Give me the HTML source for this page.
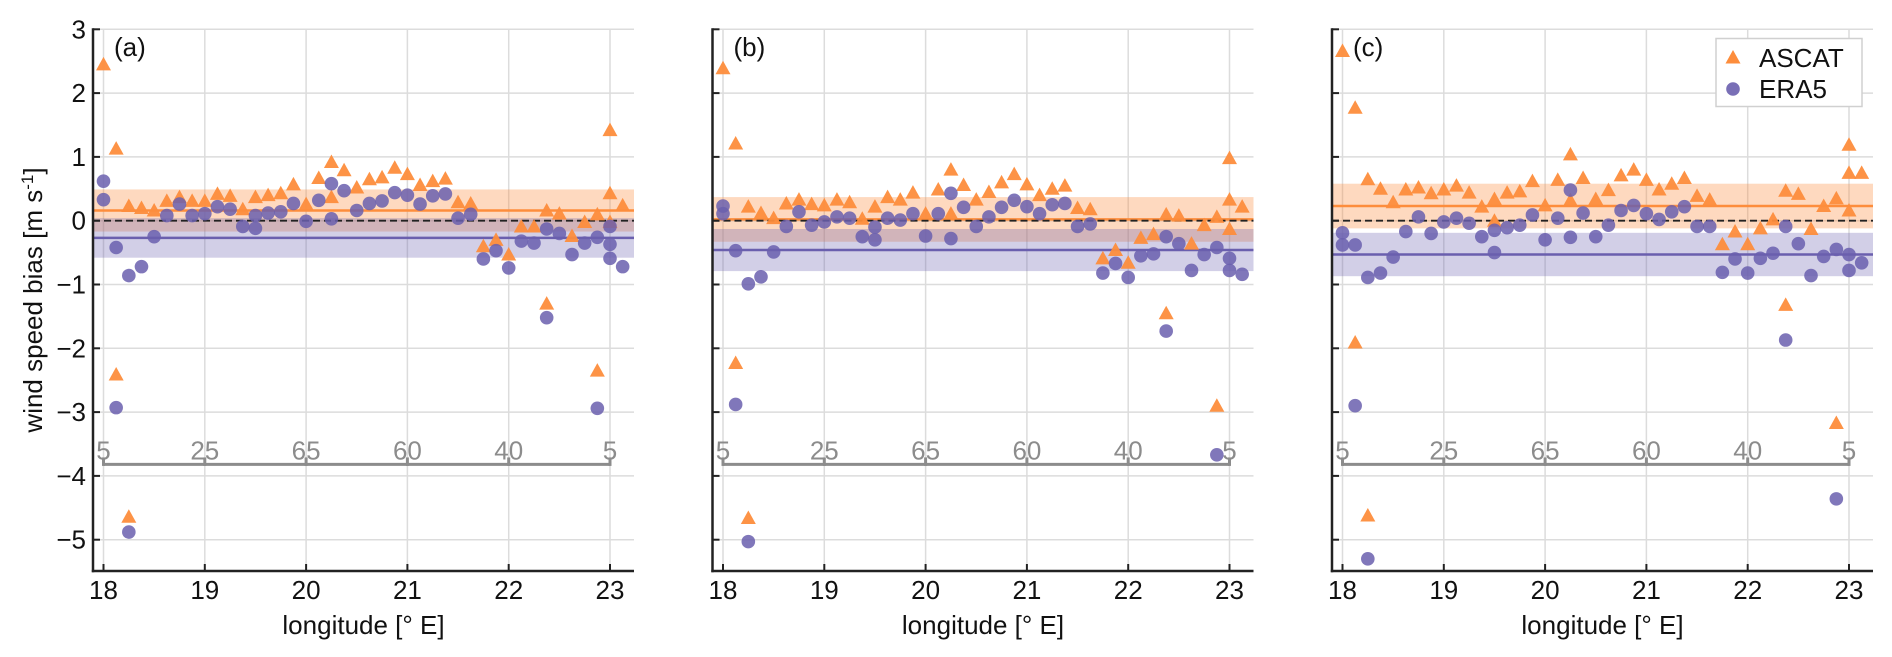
<!DOCTYPE html>
<html><head><meta charset="utf-8">
<style>
html,body{margin:0;padding:0;background:#fff;}
svg{display:block;font-family:"Liberation Sans",sans-serif;}
</style></head>
<body>
<svg id="chart" width="1892" height="657" viewBox="0 0 1892 657" xmlns="http://www.w3.org/2000/svg"></svg>
<script>
// ---- data ----
const yTicks = [-5,-4,-3,-2,-1,0,1,2,3];
const xTicks = [18,19,20,21,22,23];
const topLabels = ["5","25","65","60","40","5"];
const panelLabels = ["(a)","(b)","(c)"];
const ascatMean = [0.16, 0.02, 0.23];
const ascatStd = [0.33, 0.35, 0.35];
const era5Mean = [-0.27, -0.46, -0.53];
const era5Std = [0.31, 0.33, 0.34];

const ascatLonA = [18,18.125,18.125,18.25,18.25,18.375,18.5,18.625,18.75,18.875,19,19.125,19.25,19.375,19.5,19.625,19.75,19.875,20,20.125,20.25,20.25,20.375,20.5,20.625,20.75,20.875,21,21.125,21.25,21.375,21.5,21.625,21.75,21.875,22,22.125,22.25,22.375,22.375,22.5,22.625,22.75,22.875,22.875,23,23,23,23.125];
const ascatA = [2.45,1.13,-2.41,0.23,-4.64,0.2,0.16,0.31,0.37,0.31,0.31,0.42,0.39,0.18,0.37,0.4,0.43,0.57,0.26,0.67,0.92,0.37,0.79,0.52,0.65,0.68,0.83,0.73,0.56,0.62,0.66,0.29,0.27,-0.4,-0.3,-0.53,-0.09,-0.09,0.16,-1.3,0.11,-0.24,-0.02,0.1,-2.35,1.42,0.43,-0.02,0.24];
const era5LonA = [18,18,18.125,18.125,18.25,18.25,18.375,18.5,18.625,18.75,18.875,19,19.125,19.25,19.375,19.5,19.5,19.625,19.75,19.875,20,20.125,20.25,20.25,20.375,20.5,20.625,20.75,20.875,21,21.125,21.25,21.375,21.5,21.625,21.75,21.875,22,22.125,22.25,22.375,22.375,22.5,22.625,22.75,22.875,22.875,23,23,23,23.125];
const era5A = [0.62,0.33,-0.42,-2.93,-0.86,-4.88,-0.72,-0.25,0.08,0.26,0.08,0.11,0.22,0.18,-0.09,-0.12,0.08,0.12,0.14,0.27,-0.01,0.32,0.58,0.03,0.47,0.16,0.27,0.31,0.44,0.4,0.26,0.39,0.42,0.04,0.1,-0.6,-0.47,-0.74,-0.32,-0.35,-0.13,-1.52,-0.2,-0.53,-0.35,-0.26,-2.94,-0.09,-0.37,-0.59,-0.72];

const ascatLonB = [18,18.125,18.125,18.25,18.25,18.375,18.5,18.625,18.75,18.875,19,19.125,19.25,19.375,19.5,19.625,19.75,19.875,20,20.125,20.25,20.25,20.375,20.5,20.625,20.75,20.875,21,21.125,21.25,21.375,21.5,21.625,21.75,21.875,22,22.125,22.25,22.375,22.375,22.5,22.625,22.75,22.875,22.875,23,23,23,23.125];
const ascatB = [2.39,1.21,-2.23,0.22,-4.66,0.12,0.04,0.27,0.33,0.26,0.24,0.33,0.29,0.03,0.22,0.37,0.33,0.44,0.11,0.49,0.8,0.11,0.56,0.33,0.45,0.6,0.73,0.57,0.4,0.5,0.55,0.2,0.18,-0.59,-0.46,-0.66,-0.27,-0.21,0.1,-1.45,0.08,-0.36,-0.07,0.06,-2.9,0.98,0.33,-0.13,0.22];
const era5LonB = [18,18,18.125,18.125,18.25,18.25,18.375,18.5,18.625,18.75,18.875,19,19.125,19.25,19.375,19.5,19.5,19.625,19.75,19.875,20,20.125,20.25,20.25,20.375,20.5,20.625,20.75,20.875,21,21.125,21.25,21.375,21.5,21.625,21.75,21.875,22,22.125,22.25,22.375,22.375,22.5,22.625,22.75,22.875,22.875,23,23,23.125];
const era5B = [0.23,0.11,-0.47,-2.88,-0.99,-5.03,-0.88,-0.49,-0.09,0.14,-0.07,-0.02,0.06,0.04,-0.25,-0.1,-0.3,0.04,0.01,0.11,-0.24,0.11,0.43,-0.28,0.21,-0.09,0.06,0.21,0.32,0.22,0.11,0.25,0.27,-0.09,-0.05,-0.82,-0.67,-0.89,-0.55,-0.52,-0.25,-1.73,-0.36,-0.78,-0.53,-0.42,-3.67,-0.59,-0.78,-0.84];

const ascatLonC = [18,18.125,18.125,18.25,18.25,18.375,18.5,18.625,18.75,18.875,19,19.125,19.25,19.375,19.5,19.5,19.625,19.75,19.875,20,20.125,20.25,20.25,20.375,20.5,20.625,20.75,20.875,21,21.125,21.25,21.375,21.5,21.625,21.75,21.875,22,22.125,22.25,22.375,22.375,22.5,22.625,22.75,22.875,22.875,23,23,23,23.125];
const ascatC = [2.66,1.77,-1.91,0.65,-4.62,0.5,0.29,0.49,0.52,0.43,0.49,0.55,0.44,0.22,0.34,0.0,0.44,0.46,0.62,0.24,0.64,1.04,0.32,0.67,0.34,0.48,0.71,0.8,0.64,0.49,0.58,0.67,0.39,0.33,-0.37,-0.17,-0.37,-0.12,0.02,0.47,-1.32,0.42,-0.13,0.23,0.35,-3.17,1.19,0.75,0.16,0.75];
const era5LonC = [18,18,18.125,18.125,18.25,18.25,18.375,18.5,18.625,18.75,18.875,19,19.125,19.25,19.375,19.5,19.5,19.625,19.75,19.875,20,20.125,20.25,20.25,20.375,20.5,20.625,20.75,20.875,21,21.125,21.25,21.375,21.5,21.625,21.75,21.875,22,22.125,22.25,22.375,22.375,22.5,22.625,22.75,22.875,22.875,23,23,23.125];
const era5C = [-0.19,-0.38,-0.38,-2.9,-0.89,-5.3,-0.82,-0.57,-0.17,0.06,-0.2,-0.02,0.04,-0.04,-0.25,-0.15,-0.5,-0.11,-0.07,0.09,-0.3,0.04,0.48,-0.26,0.12,-0.25,-0.07,0.16,0.24,0.11,0.02,0.14,0.22,-0.09,-0.09,-0.81,-0.6,-0.82,-0.59,-0.51,-0.09,-1.87,-0.36,-0.86,-0.56,-0.45,-4.36,-0.53,-0.78,-0.66];

const ascatLons = [ascatLonA, ascatLonB, ascatLonC];
const ascatVals = [ascatA, ascatB, ascatC];
const era5Lons = [era5LonA, era5LonB, era5LonC];
const era5Vals = [era5A, era5B, era5C];

// ---- layout ----
const NS = "http://www.w3.org/2000/svg";
const svg = document.getElementById("chart");
const panelOffsets = [0, 619.5, 1239];
const X0 = 103.5, XU = 101.3, Y3 = 29.3, YU = 63.8;
const AX_L = 93, AX_R = 634, AX_B = 571;
function yS(v){ return Y3 + (3 - v) * YU; }
function mk(tag, attrs, parent){
  const e = document.createElementNS(NS, tag);
  for (const k in attrs) e.setAttribute(k, attrs[k]);
  (parent || svg).appendChild(e);
  return e;
}
const ORANGE = "#fd8d3c", PURPLE = "#6a5fae";

for (let p = 0; p < 3; p++){
  const off = panelOffsets[p];
  const xS = v => off + X0 + (v - 18) * XU;
  const g = mk("g", {});
  
  
  const L = off + AX_L, R = off + AX_R;
  yTicks.forEach(t => {
    const l = mk("line", {x1:L, x2:R, y1:yS(t), y2:yS(t), stroke:"#dcdcdc", "stroke-width":1.5}, g);
    
    
  });
  xTicks.forEach(t => {
    const l = mk("line", {x1:xS(t), x2:xS(t), y1:Y3, y2:AX_B, stroke:"#dcdcdc", "stroke-width":1.5}, g);
    
    
  });
  const ab = mk("rect", {x:L, width:R-L, y:yS(ascatMean[p]+ascatStd[p]), height:yS(ascatMean[p]-ascatStd[p])-yS(ascatMean[p]+ascatStd[p]), fill:ORANGE, "fill-opacity":0.33}, g);
  
  
  const eb = mk("rect", {x:L, width:R-L, y:yS(era5Mean[p]+era5Std[p]), height:yS(era5Mean[p]-era5Std[p])-yS(era5Mean[p]+era5Std[p]), fill:PURPLE, "fill-opacity":0.3}, g);
  
  
  const am = mk("line", {x1:L, x2:R, y1:yS(ascatMean[p]), y2:yS(ascatMean[p]), stroke:ORANGE, "stroke-width":2.5}, g);
  
  
  const em = mk("line", {x1:L, x2:R, y1:yS(era5Mean[p]), y2:yS(era5Mean[p]), stroke:PURPLE, "stroke-width":2.5}, g);
  
  
  const zl = mk("line", {x1:L, x2:R, y1:yS(0), y2:yS(0), stroke:"#222", "stroke-width":1.8, "stroke-dasharray":"7,4"}, g);
  
  
  const by = yS(-3.82);
  const bl = mk("line", {x1:xS(18), x2:xS(23), y1:by, y2:by, stroke:"#8c8c8c", "stroke-width":3}, g);
  
  
  xTicks.forEach((t,i) => {
    const tk = mk("line", {x1:xS(t), x2:xS(t), y1:by+1.5, y2:by-7, stroke:"#8c8c8c", "stroke-width":3}, g);
    
    
    const tx = mk("text", {x:xS(t), y:yS(-3.6)+9, "text-anchor":"middle", "font-size":26, fill:"#8c8c8c"}, g);
    tx.textContent = topLabels[i];
    
    
  });
  ascatLons[p].forEach((lon,i) => {
    const cx = xS(lon), cy = yS(ascatVals[p][i]);
    const t = mk("polygon", {points:`${cx},${cy-7.5} ${cx-7.5},${cy+6} ${cx+7.5},${cy+6}`, fill:ORANGE, "fill-opacity":0.95}, g);
    
    
  });
  era5Lons[p].forEach((lon,i) => {
    const c = mk("circle", {cx:xS(lon), cy:yS(era5Vals[p][i]), r:6.8, fill:PURPLE, "fill-opacity":0.85}, g);
    
    
  });
  const ya = mk("line", {x1:L, x2:L, y1:Y3-1, y2:AX_B+1.2, stroke:"#222", "stroke-width":2.5}, g);
  
  
  const xa = mk("line", {x1:L-1.2, x2:R, y1:AX_B, y2:AX_B, stroke:"#222", "stroke-width":2.5}, g);
  
  
  yTicks.forEach(t => {
    const tk = mk("line", {x1:L, x2:L+7, y1:yS(t), y2:yS(t), stroke:"#222", "stroke-width":2}, g);
    
    
    if (p === 0){
      const tx = mk("text", {x:86, y:yS(t)+9, "text-anchor":"end", "font-size":26, fill:"#111"}, g);
      tx.textContent = t < 0 ? "\u2212" + Math.abs(t) : String(t);
      
      
    }
  });
  xTicks.forEach(t => {
    const tk = mk("line", {x1:xS(t), x2:xS(t), y1:AX_B, y2:AX_B-7, stroke:"#222", "stroke-width":2}, g);
    
    
    const tx = mk("text", {x:xS(t), y:599, "text-anchor":"middle", "font-size":26, fill:"#111"}, g);
    tx.textContent = String(t);
    
    
  });
  const xl = mk("text", {x:(L+R)/2, y:634, "text-anchor":"middle", "font-size":26, fill:"#111"}, g);
  xl.textContent = "longitude [\u00b0 E]";
  
  
  const pl = mk("text", {x:off+114, y:56, "font-size":26, fill:"#111"}, g);
  pl.textContent = panelLabels[p];
  
  
}
const yt = mk("text", {x:0, y:0, "text-anchor":"middle", "font-size":26, fill:"#111", transform:"translate(42,300) rotate(-90)"});
yt.innerHTML = 'wind speed bias [m s<tspan dy="-9" font-size="17">-1</tspan><tspan dy="9">]</tspan>';


const lg = mk("g", {});


const lb = mk("rect", {x:1716, y:38.5, width:146, height:68, fill:"#fff", stroke:"#d0d0d0", "stroke-width":1.5}, lg);


const lt = mk("polygon", {points:"1733,50 1725.5,63.5 1740.5,63.5", fill:ORANGE}, lg);


const lc = mk("circle", {cx:1733, cy:89, r:6.8, fill:PURPLE, "fill-opacity":0.9}, lg);


const la = mk("text", {x:1759, y:67, "font-size":26, fill:"#111"}, lg);
la.textContent = "ASCAT";


const le = mk("text", {x:1759, y:98, "font-size":26, fill:"#111"}, lg);
le.textContent = "ERA5";


</script>
</body></html>
